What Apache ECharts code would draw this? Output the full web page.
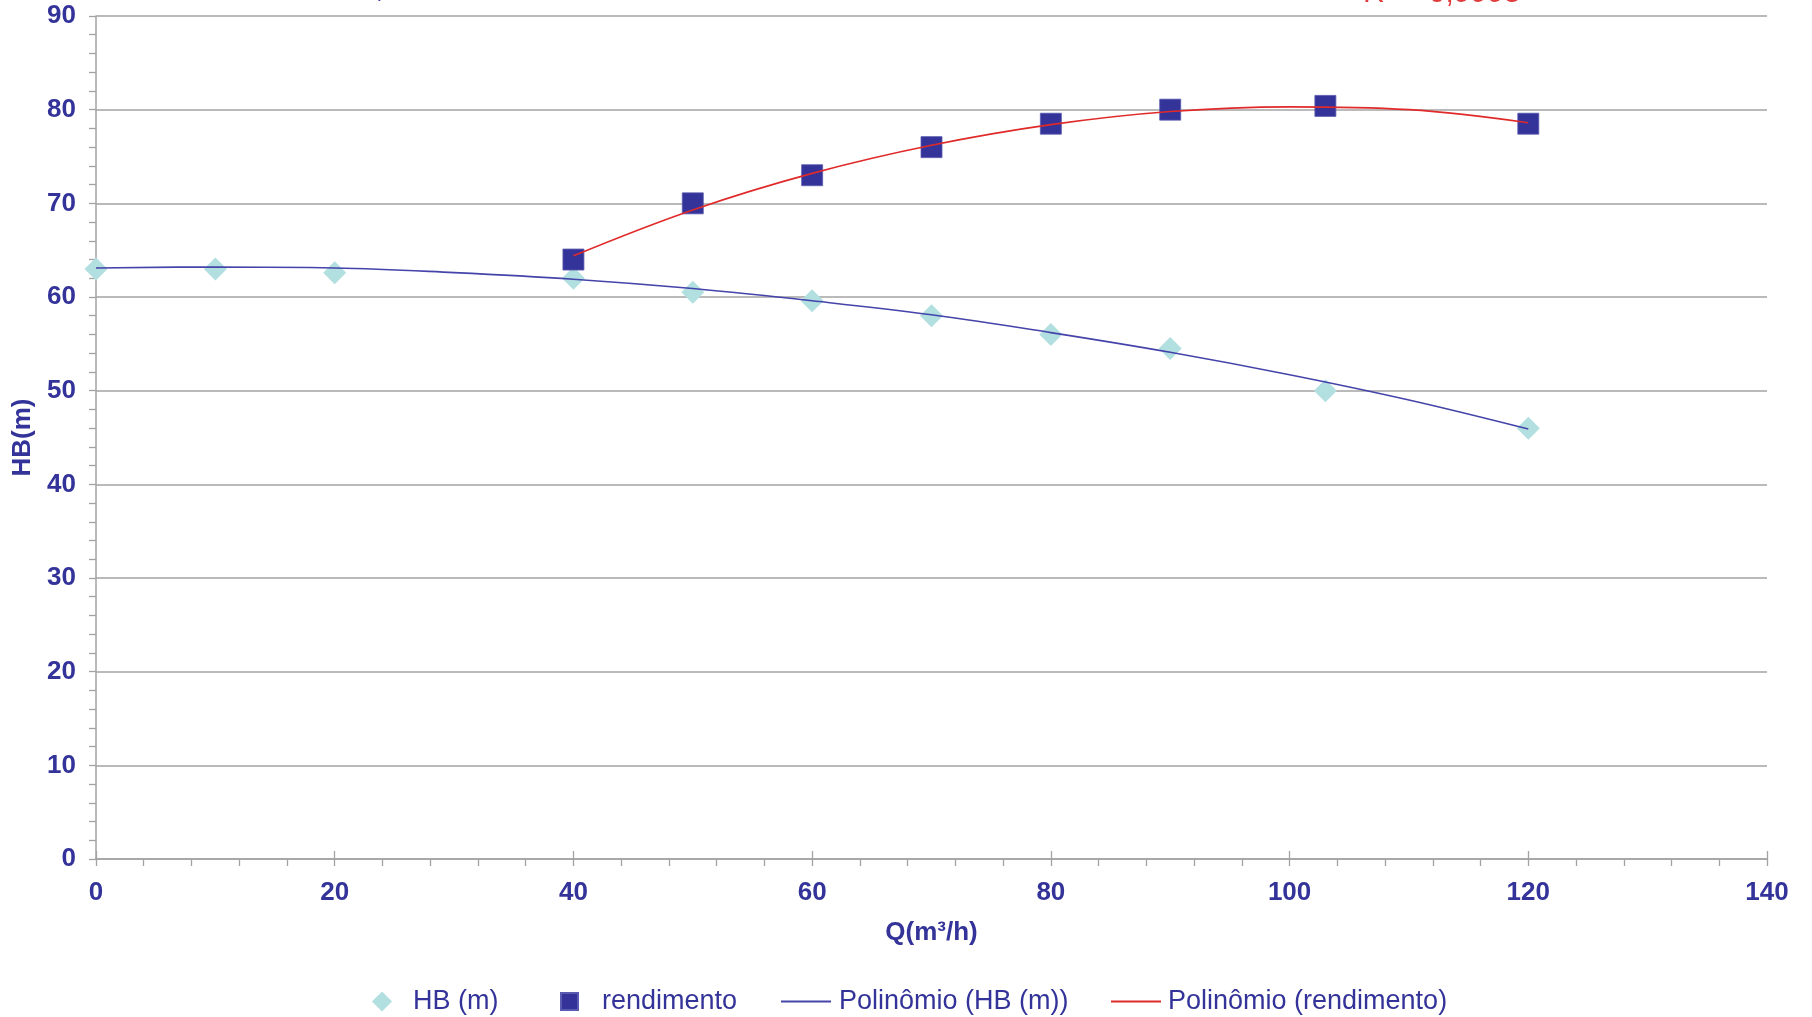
<!DOCTYPE html>
<html>
<head>
<meta charset="utf-8">
<script src="https://cdn.jsdelivr.net/npm/echarts@6/dist/echarts.min.js"></script>
<style>
html,body{margin:0;padding:0;background:#fff;}
#chart{width:1812px;height:1017px;}
</style>
</head>
<body>
<div id="chart"></div>
<script>
// ---- data ----
var qValues    = [0, 10, 20, 40, 50, 60, 70, 80, 90, 103, 120];
var hbValues   = [63, 63, 62.6, 62, 60.5, 59.6, 58, 56, 54.5, 50, 46];
var rendQ      = [40, 50, 60, 70, 80, 90, 103, 120];
var rendValues = [64, 70, 73, 76, 78.5, 80, 80.4, 78.5];
// trendline (Polinômio) curves
var hbTrendQ   = [0, 10, 20, 30, 40, 50, 60, 70, 80, 90, 100, 110, 120];
var hbTrend    = [63.1, 63.2, 63.1, 62.6, 61.9, 60.9, 59.6, 58.1, 56.2, 54.1, 51.7, 49.0, 45.9];
var rendTrendQ = [40, 50, 60, 70, 80, 90, 100, 110, 120];
var rendTrend  = [64.4, 69.3, 73.2, 76.2, 78.4, 79.8, 80.3, 80.0, 78.6];
var seriesNames = ['HB (m)', 'rendimento', 'Polinômio (HB (m))', 'Polinômio (rendimento)'];
var xTicks = {min: 0, max: 140, interval: 20};
var yTicks = {min: 0, max: 90, interval: 10};
var axisNames = {x: 'Q(m³/h)', y: 'HB(m)'};
var topTexts = ['R² = 0,9968', 'R² = 0,9995'];

function pairs(xs, ys){ return xs.map(function(x,i){ return [x, ys[i]]; }); }

var FONT = '"Liberation Sans", Arial, sans-serif';
var NAVY = '#333399';
var GRAY = '#a3a3a3';

var chart = echarts.init(document.getElementById('chart'), null, {renderer:'canvas'});
var gridBox = {left: 96, right: 45, top: 16, bottom: 158};

var legendText = {color: NAVY, fontSize: 27, fontFamily: FONT};
function legendAt(item, left, w, h, pad){
  return {
    data: [item], left: left, top: 983, itemWidth: w, itemHeight: h,
    selectedMode: false,
    textStyle: Object.assign({}, legendText, {padding: [0,0,0,pad]})
  };
}

var option = {
  backgroundColor: '#fff',
  animation: false,
  textStyle: {fontFamily: FONT},
  grid: [
    Object.assign({}, gridBox),
    Object.assign({}, gridBox)
  ],
  legend: [
    legendAt(seriesNames[0], 367, 20, 20, 16),
    legendAt(seriesNames[1], 555, 17, 17, 19),
    legendAt({name: seriesNames[2], icon: 'rect'}, 776, 50, 2, 3),
    legendAt({name: seriesNames[3], icon: 'rect'}, 1106, 50, 2, 2)
  ],
  xAxis: [{
    type: 'value', gridIndex: 0,
    min: xTicks.min, max: xTicks.max, interval: xTicks.interval,
    name: axisNames.x, nameLocation: 'middle', nameGap: 61,
    nameTextStyle: {color: NAVY, fontSize: 26, fontWeight: 'bold', fontFamily: FONT},
    axisLine: {show: true, onZero: false, lineStyle: {color: GRAY, width: 1.5}},
    axisTick: {show: true, length: 7, lineStyle: {color: GRAY, width: 1.3}},
    minorTick: {show: true, splitNumber: 5, length: 7, lineStyle: {color: GRAY, width: 1.3}},
    axisLabel: {color: NAVY, fontSize: 26, fontWeight: 'bold', margin: 21, fontFamily: FONT},
    splitLine: {show: false}
  }, {
    type: 'value', gridIndex: 1,
    min: xTicks.min, max: xTicks.max, interval: xTicks.interval,
    axisLine: {show: false},
    axisTick: {show: true, inside: true, length: 8, lineStyle: {color: GRAY, width: 1.3}},
    axisLabel: {show: false},
    splitLine: {show: false}
  }],
  yAxis: [{
    type: 'value', gridIndex: 0,
    min: yTicks.min, max: yTicks.max, interval: yTicks.interval,
    name: axisNames.y, nameLocation: 'middle', nameGap: 60, nameRotate: 90,
    nameTextStyle: {color: NAVY, fontSize: 26, fontWeight: 'bold', fontFamily: FONT},
    axisLine: {show: true, onZero: false, lineStyle: {color: GRAY, width: 1.5}},
    axisTick: {show: true, length: 7, lineStyle: {color: GRAY, width: 1.3}},
    minorTick: {show: true, splitNumber: 5, length: 7, lineStyle: {color: GRAY, width: 1.3}},
    axisLabel: {color: NAVY, fontSize: 26, fontWeight: 'bold', margin: 20, fontFamily: FONT},
    splitLine: {show: true, lineStyle: {color: GRAY, width: 1.5}}
  }, {
    type: 'value', gridIndex: 1, show: false,
    min: yTicks.min, max: yTicks.max, interval: yTicks.interval
  }],
  series: [{
    name: seriesNames[0], type: 'scatter',
    data: pairs(qValues, hbValues),
    symbol: 'diamond', symbolSize: 23,
    itemStyle: {color: '#b2dfdf', opacity: 1}
  }, {
    name: seriesNames[1], type: 'scatter',
    data: pairs(rendQ, rendValues),
    symbol: 'rect', symbolSize: 21,
    itemStyle: {color: NAVY, opacity: 1, borderColor: '#5a5ab0', borderWidth: 0.8}
  }, {
    name: seriesNames[2], type: 'line',
    data: pairs(hbTrendQ, hbTrend),
    smooth: 0.4, symbol: 'none', showSymbol: false,
    lineStyle: {color: '#4444aa', width: 1.6},
    itemStyle: {color: '#4444aa'}
  }, {
    name: seriesNames[3], type: 'line',
    data: pairs(rendTrendQ, rendTrend),
    smooth: 0.4, symbol: 'none', showSymbol: false,
    lineStyle: {color: '#e02a2a', width: 1.6},
    itemStyle: {color: '#e02a2a'}
  }],
  graphic: [{
    type: 'text', x: 293, y: 4, silent: true,
    style: {text: topTexts[0], fill: '#3a3aaa', fontSize: 30, fontFamily: FONT, verticalAlign: 'bottom'}
  }, {
    type: 'text', x: 1363, y: 9, silent: true,
    style: {text: topTexts[1], fill: '#e03c3c', fontSize: 30, fontFamily: FONT, verticalAlign: 'bottom'}
  }]
};
chart.setOption(option);
</script>
</body>
</html>
